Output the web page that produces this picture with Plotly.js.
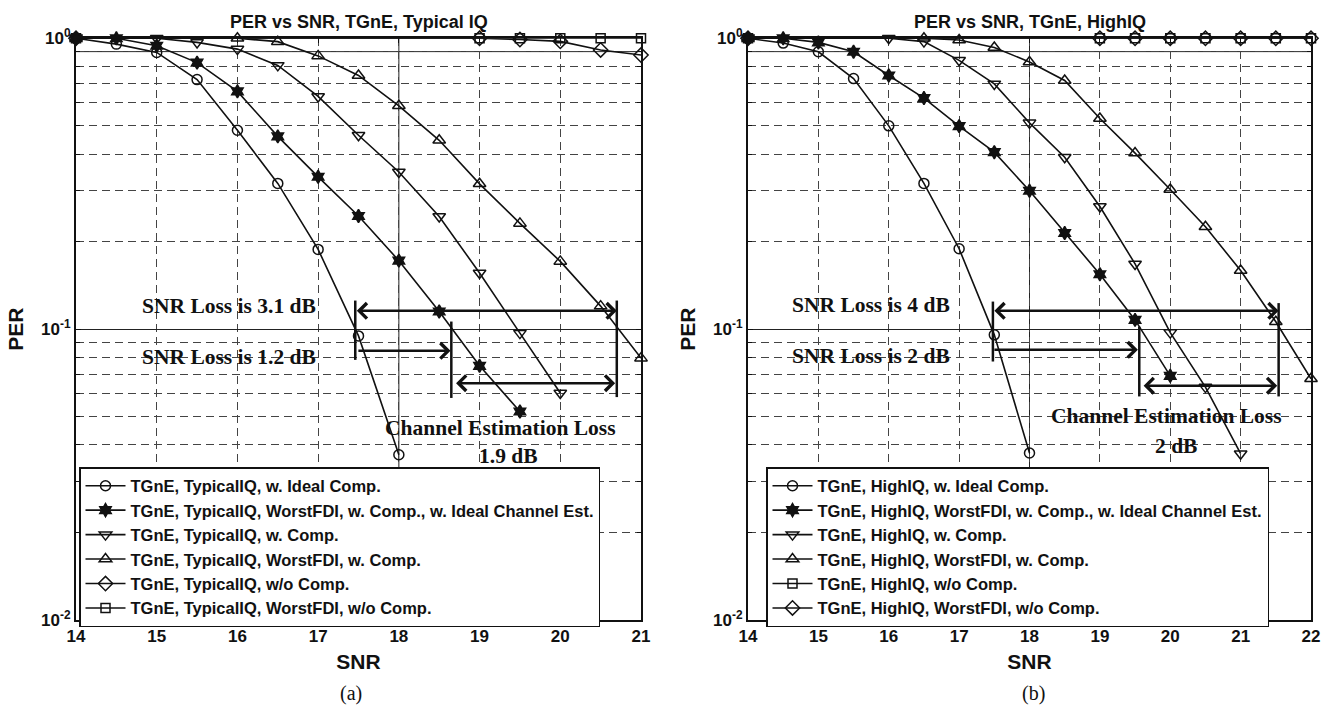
<!DOCTYPE html>
<html>
<head>
<meta charset="utf-8">
<script src="https://cdn.plot.ly/plotly-3.0.1.min.js"></script>
<style>html,body{margin:0;padding:0;background:#fff;}#chart{width:1332px;height:706px;}</style>
</head>
<body>
<div id="chart"></div>
<script>
// ---------- Data: (a) TGnE, Typical IQ ----------
const snrA_ideal   = [14, 14.5, 15, 15.5, 16, 16.5, 17, 17.5, 18];
const perA_ideal   = [1.0, 0.955, 0.894, 0.721, 0.483, 0.317, 0.188, 0.0948, 0.037];
const snrA_idealCE = [14, 14.5, 15, 15.5, 16, 16.5, 17, 17.5, 18, 18.5, 19, 19.5];
const perA_idealCE = [1.0, 1.0, 0.943, 0.825, 0.657, 0.46, 0.334, 0.245, 0.172, 0.115, 0.0748, 0.0521];
const snrA_comp    = [14, 15, 15.5, 16, 16.5, 17, 17.5, 18, 18.5, 19, 19.5, 20];
const perA_comp    = [1.0, 1.0, 0.968, 0.918, 0.807, 0.631, 0.464, 0.347, 0.244, 0.156, 0.0969, 0.0603];
const snrA_worst   = [14, 16, 16.5, 17, 17.5, 18, 18.5, 19, 19.5, 20, 20.5, 21];
const perA_worst   = [1.0, 1.0, 0.974, 0.87, 0.745, 0.586, 0.446, 0.316, 0.231, 0.171, 0.12, 0.0795];
const snrA_nocomp  = [14, 19, 19.5, 20, 20.5, 21];
const perA_nocomp  = [1.0, 1.0, 0.99, 0.976, 0.912, 0.876];
const snrA_worstNo = [14, 19, 19.5, 20, 20.5, 21];
const perA_worstNo = [1.0, 1.0, 1.0, 1.0, 1.0, 1.0];

// ---------- Data: (b) TGnE, HighIQ ----------
const snrB_ideal   = [14, 14.5, 15, 15.5, 16, 16.5, 17, 17.5, 18];
const perB_ideal   = [1.0, 0.963, 0.899, 0.727, 0.5, 0.317, 0.189, 0.0956, 0.0375];
const snrB_idealCE = [14, 14.5, 15, 15.5, 16, 16.5, 17, 17.5, 18, 18.5, 19, 19.5, 20];
const perB_idealCE = [1.0, 1.0, 0.968, 0.899, 0.745, 0.623, 0.499, 0.406, 0.299, 0.214, 0.1545, 0.1076, 0.0691];
const snrB_comp    = [14, 16, 16.5, 17, 17.5, 18, 18.5, 19, 19.5, 20, 20.5, 21];
const perB_comp    = [1.0, 1.0, 0.974, 0.84, 0.697, 0.512, 0.39, 0.264, 0.1676, 0.0973, 0.0632, 0.0373];
const snrB_worst   = [14, 16.5, 17, 17.5, 18, 18.5, 19, 19.5, 20, 20.5, 21, 21.5, 22];
const perB_worst   = [1.0, 1.0, 0.987, 0.93, 0.829, 0.716, 0.53, 0.403, 0.302, 0.225, 0.159, 0.106, 0.0675];
const snrB_nocomp  = [14, 19, 19.5, 20, 20.5, 21, 21.5, 22];
const perB_nocomp  = [1.0, 1.0, 1.0, 1.0, 1.0, 1.0, 1.0, 1.0];
const snrB_worstNo = [14, 19, 19.5, 20, 20.5, 21, 21.5, 22];
const perB_worstNo = [1.0, 1.0, 1.0, 1.0, 1.0, 1.0, 1.0, 1.0];

// ---------- Labels ----------
const namesA = [
  'TGnE, TypicalIQ, w. Ideal Comp.',
  'TGnE, TypicalIQ, WorstFDI, w. Comp., w. Ideal Channel Est.',
  'TGnE, TypicalIQ, w. Comp.',
  'TGnE, TypicalIQ, WorstFDI, w. Comp.',
  'TGnE, TypicalIQ, w/o Comp.',
  'TGnE, TypicalIQ, WorstFDI, w/o Comp.'
];
const namesB = [
  'TGnE, HighIQ, w. Ideal Comp.',
  'TGnE, HighIQ, WorstFDI, w. Comp., w. Ideal Channel Est.',
  'TGnE, HighIQ, w. Comp.',
  'TGnE, HighIQ, WorstFDI, w. Comp.',
  'TGnE, HighIQ, w/o Comp.',
  'TGnE, HighIQ, WorstFDI, w/o Comp.'
];
const xTicksA = [14, 15, 16, 17, 18, 19, 20, 21];
const xTicksB = [14, 15, 16, 17, 18, 19, 20, 21, 22];
const yTickVals = [0.01, 0.1, 1];
const yTickText = ['10<sup>-2</sup>', '10<sup>-1</sup>', '10<sup>0</sup>'];
const yMinor = [0.02,0.03,0.04,0.05,0.06,0.07,0.08,0.09,0.2,0.3,0.4,0.5,0.6,0.7,0.8,0.9];

const INK = '#111';
const SANS = 'Liberation Sans, Arial, Helvetica, sans-serif';
const SERIF = 'Liberation Serif, Times New Roman, serif';

function tr(x, y, name, sym, size, xa, ya, leg) {
  return {
    x: x, y: y, name: name, type: 'scatter', mode: 'lines+markers',
    xaxis: xa, yaxis: ya, legend: leg, cliponaxis: false,
    line: {color: INK, width: 1.6},
    marker: {symbol: sym, size: size, color: INK, line: {color: INK, width: 1.5}}
  };
}

const data = [
  tr(snrA_ideal, perA_ideal, namesA[0], 'circle-open', 10, 'x', 'y', 'legend'),
  tr(snrA_idealCE, perA_idealCE, namesA[1], 'hexagram', 10, 'x', 'y', 'legend'),
  tr(snrA_comp, perA_comp, namesA[2], 'triangle-down-open', 11, 'x', 'y', 'legend'),
  tr(snrA_worst, perA_worst, namesA[3], 'triangle-up-open', 11, 'x', 'y', 'legend'),
  tr(snrA_nocomp, perA_nocomp, namesA[4], 'diamond-open', 11, 'x', 'y', 'legend'),
  tr(snrA_worstNo, perA_worstNo, namesA[5], 'square-open', 9, 'x', 'y', 'legend'),
  tr(snrB_ideal, perB_ideal, namesB[0], 'circle-open', 10, 'x2', 'y2', 'legend2'),
  tr(snrB_idealCE, perB_idealCE, namesB[1], 'hexagram', 10, 'x2', 'y2', 'legend2'),
  tr(snrB_comp, perB_comp, namesB[2], 'triangle-down-open', 11, 'x2', 'y2', 'legend2'),
  tr(snrB_worst, perB_worst, namesB[3], 'triangle-up-open', 11, 'x2', 'y2', 'legend2'),
  tr(snrB_nocomp, perB_nocomp, namesB[4], 'square-open', 9, 'x2', 'y2', 'legend2'),
  tr(snrB_worstNo, perB_worstNo, namesB[5], 'diamond-open', 11, 'x2', 'y2', 'legend2')
];

const W = 1332, H = 706;
const DASH = '8px,5px';

function xAxis(domain, range, ticks, anchor) {
  return {
    domain: domain, range: range, anchor: anchor, tickmode: 'array', tickvals: ticks,
    showgrid: true, griddash: DASH, gridcolor: '#444', gridwidth: 1, zeroline: false,
    showline: true, linewidth: 2, linecolor: INK, mirror: 'ticks',
    ticks: 'inside', ticklen: 5, tickwidth: 1, tickcolor: INK,
    tickfont: {family: SANS, size: 17, color: INK, weight: 'bold'},
    title: {text: 'SNR', font: {family: SANS, size: 21, color: INK, weight: 'bold'}, standoff: 9},
    automargin: false, fixedrange: true
  };
}
function yAxis(domain, anchor) {
  return {
    domain: domain, type: 'log', range: [-2, 0], anchor: anchor,
    tickmode: 'array', tickvals: yTickVals, ticktext: yTickText,
    showgrid: true, gridcolor: '#222', gridwidth: 1, zeroline: false,
    showline: true, linewidth: 2, linecolor: INK, mirror: 'ticks',
    ticks: 'inside', ticklen: 5, tickwidth: 1, tickcolor: INK,
    minor: {tickmode: 'array', tickvals: yMinor, showgrid: true, griddash: DASH,
            gridcolor: '#444', gridwidth: 1, ticks: 'inside', ticklen: 4, tickcolor: INK},
    tickfont: {family: SANS, size: 17, color: INK, weight: 'bold'},
    title: {text: 'PER', font: {family: SANS, size: 21, color: INK, weight: 'bold'}, standoff: 12},
    automargin: false, fixedrange: true
  };
}

const yDom = [1 - 620 / H, 1 - 38.3 / H];
const L = Math.log10;

function dArrow(xr, yr, x1, x2, y) {
  return {xref: xr, yref: yr, axref: xr, ayref: yr, x: x2, y: L(y), ax: x1, ay: L(y),
          text: '', showarrow: true, arrowhead: 4, startarrowhead: 4, arrowside: 'end+start',
          arrowsize: 1.2, startarrowsize: 1.2, arrowwidth: 2.5, arrowcolor: INK,
          standoff: 0, startstandoff: 0};
}
function rArrow(xr, yr, x1, x2, y) {
  return {xref: xr, yref: yr, axref: xr, ayref: yr, x: x2, y: L(y), ax: x1, ay: L(y),
          text: '', showarrow: true, arrowhead: 4, arrowside: 'end',
          arrowsize: 1.2, arrowwidth: 2.5, arrowcolor: INK, standoff: 0};
}
function note(xr, yr, x, y, text) {
  return {xref: xr, yref: yr, x: x, y: L(y), text: text, showarrow: false,
          xanchor: 'center', yanchor: 'middle',
          font: {family: SERIF, size: 21.5, color: INK, weight: 'bold'}};
}
function bar(xr, yr, x, y0, y1) {
  return {type: 'line', xref: xr, yref: yr, x0: x, x1: x, y0: y0, y1: y1,
          line: {color: INK, width: 2.5}};
}
function vSolid(xr, yr, x) {
  return {type: 'line', xref: xr, yref: yr, x0: x, x1: x, y0: 0.01, y1: 1,
          layer: 'below', line: {color: '#222', width: 1}};
}
function hSolid(xr, yr, x0, x1, y) {
  return {type: 'line', xref: xr, yref: yr, x0: x0, x1: x1, y0: y, y1: y,
          layer: 'below', line: {color: '#222', width: 1}};
}
function legendCfg(x) {
  return {x: x, y: 1 - 467 / H, xanchor: 'left', yanchor: 'top',
          bgcolor: '#fff', bordercolor: INK, borderwidth: 1.5, tracegroupgap: 0,
          itemwidth: 40,
          font: {family: SANS, size: 16.5, color: INK, weight: 'bold'}};
}

const layout = {
  width: W, height: H,
  margin: {l: 0, r: 0, t: 0, b: 0},
  paper_bgcolor: '#fff', plot_bgcolor: '#fff',
  showlegend: true,
  xaxis: xAxis([76 / W, 641 / W], [14, 21], xTicksA, 'y'),
  yaxis: yAxis(yDom, 'x'),
  xaxis2: xAxis([748 / W, 1311 / W], [14, 22], xTicksB, 'y2'),
  yaxis2: yAxis(yDom, 'x2'),
  legend: legendCfg(79 / W),
  legend2: legendCfg(766 / W),
  shapes: [
    vSolid('x', 'y', 18), hSolid('x', 'y', 14, 21, 0.9),
    vSolid('x2', 'y2', 18), hSolid('x2', 'y2', 14, 22, 0.9),
    bar('x', 'y', 17.46, 0.0784, 0.1254),
    bar('x', 'y', 20.70, 0.0584, 0.1254),
    bar('x', 'y', 18.65, 0.058, 0.1062),
    bar('x2', 'y2', 17.48, 0.0774, 0.1244),
    bar('x2', 'y2', 21.54, 0.0587, 0.1229),
    bar('x2', 'y2', 19.56, 0.0587, 0.102)
  ],
  annotations: [
    {xref: 'paper', yref: 'paper', x: 358.5 / W, y: 1 - 22 / H, text: 'PER vs SNR, TGnE, Typical IQ',
     showarrow: false, xanchor: 'center', yanchor: 'middle',
     font: {family: SANS, size: 18, color: INK, weight: 'bold'}},
    {xref: 'paper', yref: 'paper', x: 1029.5 / W, y: 1 - 22 / H, text: 'PER vs SNR, TGnE, HighIQ',
     showarrow: false, xanchor: 'center', yanchor: 'middle',
     font: {family: SANS, size: 18, color: INK, weight: 'bold'}},
    {xref: 'paper', yref: 'paper', x: 351 / W, y: 1 - 693 / H, text: '(a)', showarrow: false,
     xanchor: 'center', yanchor: 'middle', font: {family: SERIF, size: 20, color: INK}},
    {xref: 'paper', yref: 'paper', x: 1033 / W, y: 1 - 693 / H, text: '(b)', showarrow: false,
     xanchor: 'center', yanchor: 'middle', font: {family: SERIF, size: 20, color: INK}},
    // (a) annotations
    dArrow('x', 'y', 17.46, 20.70, 0.1156),
    rArrow('x', 'y', 17.48, 18.64, 0.0842),
    dArrow('x', 'y', 18.69, 20.68, 0.0652),
    note('x', 'y', 15.9, 0.12, 'SNR Loss is 3.1 dB'),
    note('x', 'y', 15.9, 0.0805, 'SNR Loss is 1.2 dB'),
    note('x', 'y', 19.26, 0.0458, 'Channel Estimation Loss'),
    note('x', 'y', 19.36, 0.0365, '1.9 dB'),
    // (b) annotations
    dArrow('x2', 'y2', 17.48, 21.54, 0.1156),
    rArrow('x2', 'y2', 17.48, 19.54, 0.0849),
    dArrow('x2', 'y2', 19.6, 21.52, 0.0639),
    note('x2', 'y2', 15.75, 0.1212, 'SNR Loss is 4 dB'),
    note('x2', 'y2', 15.75, 0.0809, 'SNR Loss is 2 dB'),
    note('x2', 'y2', 19.95, 0.0501, 'Channel Estimation Loss'),
    note('x2', 'y2', 20.08, 0.0398, '2 dB')
  ]
};

Plotly.newPlot('chart', data, layout, {displayModeBar: false, staticPlot: true});
</script>
</body>
</html>
